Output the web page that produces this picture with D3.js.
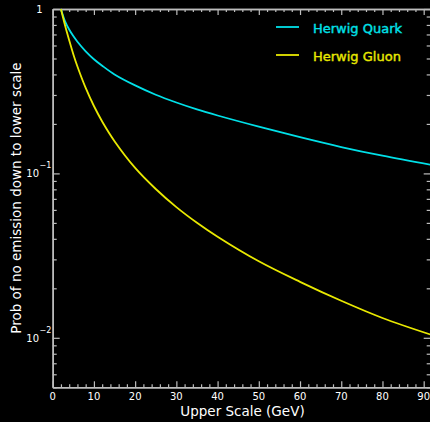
<!DOCTYPE html>
<html>
<head>
<meta charset="utf-8">
<script src="https://cdn.jsdelivr.net/npm/d3@7"></script>
<style>
  html, body { margin: 0; padding: 0; background: #000; }
  svg { display: block; }
  text { font-family: "DejaVu Sans", sans-serif; fill: #fff; }
</style>
</head>
<body>
<svg id="chart" width="430" height="422"></svg>
<script>
// Upper scale (GeV) at which each probability is sampled
const upperScale = [2, 3, 4, 5, 6, 8, 10, 12, 15, 20, 25, 30, 35, 40, 50, 60, 70, 80, 92];
// Probability of no emission down to the lower scale
const quarkProb = [1.0, 0.841, 0.750, 0.684, 0.632, 0.553, 0.495, 0.452, 0.400, 0.343, 0.301, 0.270, 0.245, 0.225, 0.1925, 0.166, 0.1447, 0.1281, 0.1125];
const gluonProb = [1.0, 0.794, 0.646, 0.531, 0.447, 0.331, 0.257, 0.207, 0.157, 0.108, 0.0804, 0.0624, 0.0501, 0.0412, 0.0292, 0.0219, 0.0168, 0.0132, 0.0104];

const seriesNames = ["Herwig Quark", "Herwig Gluon"];
const seriesColors = ["#00e0e8", "#e8e800"];
const xTickValues = [0, 10, 20, 30, 40, 50, 60, 70, 80, 90];
const yDecades = [1, 0.1, 0.01];
const xDomain = [0, 91.7];
const yDomain = [0.005, 1];

const svg = d3.select("#chart");
const plotLeft = 52.7, plotRight = 430.7, plotTop = 9, plotBottom = 387.3;

const x = d3.scaleLinear().domain(xDomain).range([plotLeft, plotRight]);
const y = d3.scaleLog().domain(yDomain).range([plotBottom, plotTop]);

const axisColor = "#bdbdbd";

// Minor ticks on the x axis every 2 GeV, majors every 10
const xMinor = d3.range(0, xDomain[1], 2).filter(v => v % 10 !== 0);
// Log-scale minor ticks between decades
const yMinor = [];
[0.001, 0.01, 0.1].forEach(d => { for (let k = 2; k <= 9; k++) { const v = d * k; if (v >= yDomain[0] && v < yDomain[1]) yMinor.push(v); } });

svg.append("defs").append("clipPath").attr("id", "plotclip")
  .append("rect").attr("x", plotLeft).attr("y", plotTop - 1)
  .attr("width", plotRight - plotLeft).attr("height", plotBottom - plotTop + 1);

// Frame axes built with d3 axis generators, ticks pointing inward
function frameAxis(gen, transform) {
  const g = svg.append("g").attr("transform", transform).call(gen);
  g.selectAll("text").remove();
  g.select(".domain").attr("stroke", axisColor).attr("stroke-width", 1.5);
  g.selectAll(".tick line").attr("stroke", axisColor).attr("stroke-width", 1.2);
  return g;
}
frameAxis(d3.axisBottom(x).tickValues(xTickValues).tickSizeInner(-6).tickSizeOuter(0), `translate(0,${plotBottom})`);
frameAxis(d3.axisBottom(x).tickValues(xMinor).tickSizeInner(-3).tickSizeOuter(0), `translate(0,${plotBottom})`);
frameAxis(d3.axisTop(x).tickValues(xTickValues).tickSizeInner(-6).tickSizeOuter(0), `translate(0,${plotTop})`);
frameAxis(d3.axisTop(x).tickValues(xMinor).tickSizeInner(-3).tickSizeOuter(0), `translate(0,${plotTop})`);
frameAxis(d3.axisLeft(y).tickValues(yDecades).tickSizeInner(-7).tickSizeOuter(0), `translate(${plotLeft},0)`);
frameAxis(d3.axisLeft(y).tickValues(yMinor).tickSizeInner(-4).tickSizeOuter(0), `translate(${plotLeft},0)`);
frameAxis(d3.axisRight(y).tickValues(yDecades).tickSizeInner(-7).tickSizeOuter(0), `translate(${plotRight},0)`);
frameAxis(d3.axisRight(y).tickValues(yMinor).tickSizeInner(-4).tickSizeOuter(0), `translate(${plotRight},0)`);

// X tick labels
svg.append("g").selectAll("text").data(xTickValues).join("text")
  .attr("x", d => x(d)).attr("y", plotBottom + 13)
  .attr("text-anchor", "middle").attr("font-size", 10)
  .text(d => d);

// Y tick labels: 1, 10^-1, 10^-2
const yl = svg.append("g");
yDecades.forEach(d => {
  const e = Math.round(Math.log10(d));
  if (e === 0) {
    yl.append("text").attr("x", 42.5).attr("y", y(d) + 4.3).attr("text-anchor", "end").attr("font-size", 10).text("1");
  } else {
    yl.append("text").attr("x", 39).attr("y", y(d) + 4).attr("text-anchor", "end").attr("font-size", 10).text("10");
    yl.append("text").attr("x", 39.5).attr("y", y(d) - 5).attr("text-anchor", "start").attr("font-size", 8).text("\u2212" + (-e));
  }
});

// Axis titles
svg.append("text").attr("x", 242.5).attr("y", 415.5).attr("text-anchor", "middle")
  .attr("font-size", 13.5).text("Upper Scale (GeV)");
svg.append("text").attr("transform", "translate(20.5,198) rotate(-90)").attr("text-anchor", "middle")
  .attr("font-size", 13.5).text("Prob of no emission down to lower scale");

// Curves
const line = d3.line().x(d => x(d[0])).y(d => y(d[1])).curve(d3.curveCatmullRom.alpha(0.5));
const series = [quarkProb, gluonProb];
const plot = svg.append("g").attr("clip-path", "url(#plotclip)");
series.forEach((vals, i) => {
  plot.append("path")
    .datum(upperScale.map((q, j) => [q, vals[j]]))
    .attr("fill", "none").attr("stroke", seriesColors[i]).attr("stroke-width", 1.8)
    .attr("d", line);
});

// Legend
const lg = svg.append("g");
seriesNames.forEach((name, i) => {
  const ly = 27 + i * 28;
  lg.append("line").attr("x1", 276).attr("x2", 299).attr("y1", ly).attr("y2", ly)
    .attr("stroke", seriesColors[i]).attr("stroke-width", 1.8);
  lg.append("text").attr("x", 313).attr("y", ly + 6).attr("font-size", 13)
    .attr("stroke", seriesColors[i]).attr("stroke-width", 0.4)
    .style("fill", seriesColors[i]).text(name);
});
</script>
</body>
</html>
